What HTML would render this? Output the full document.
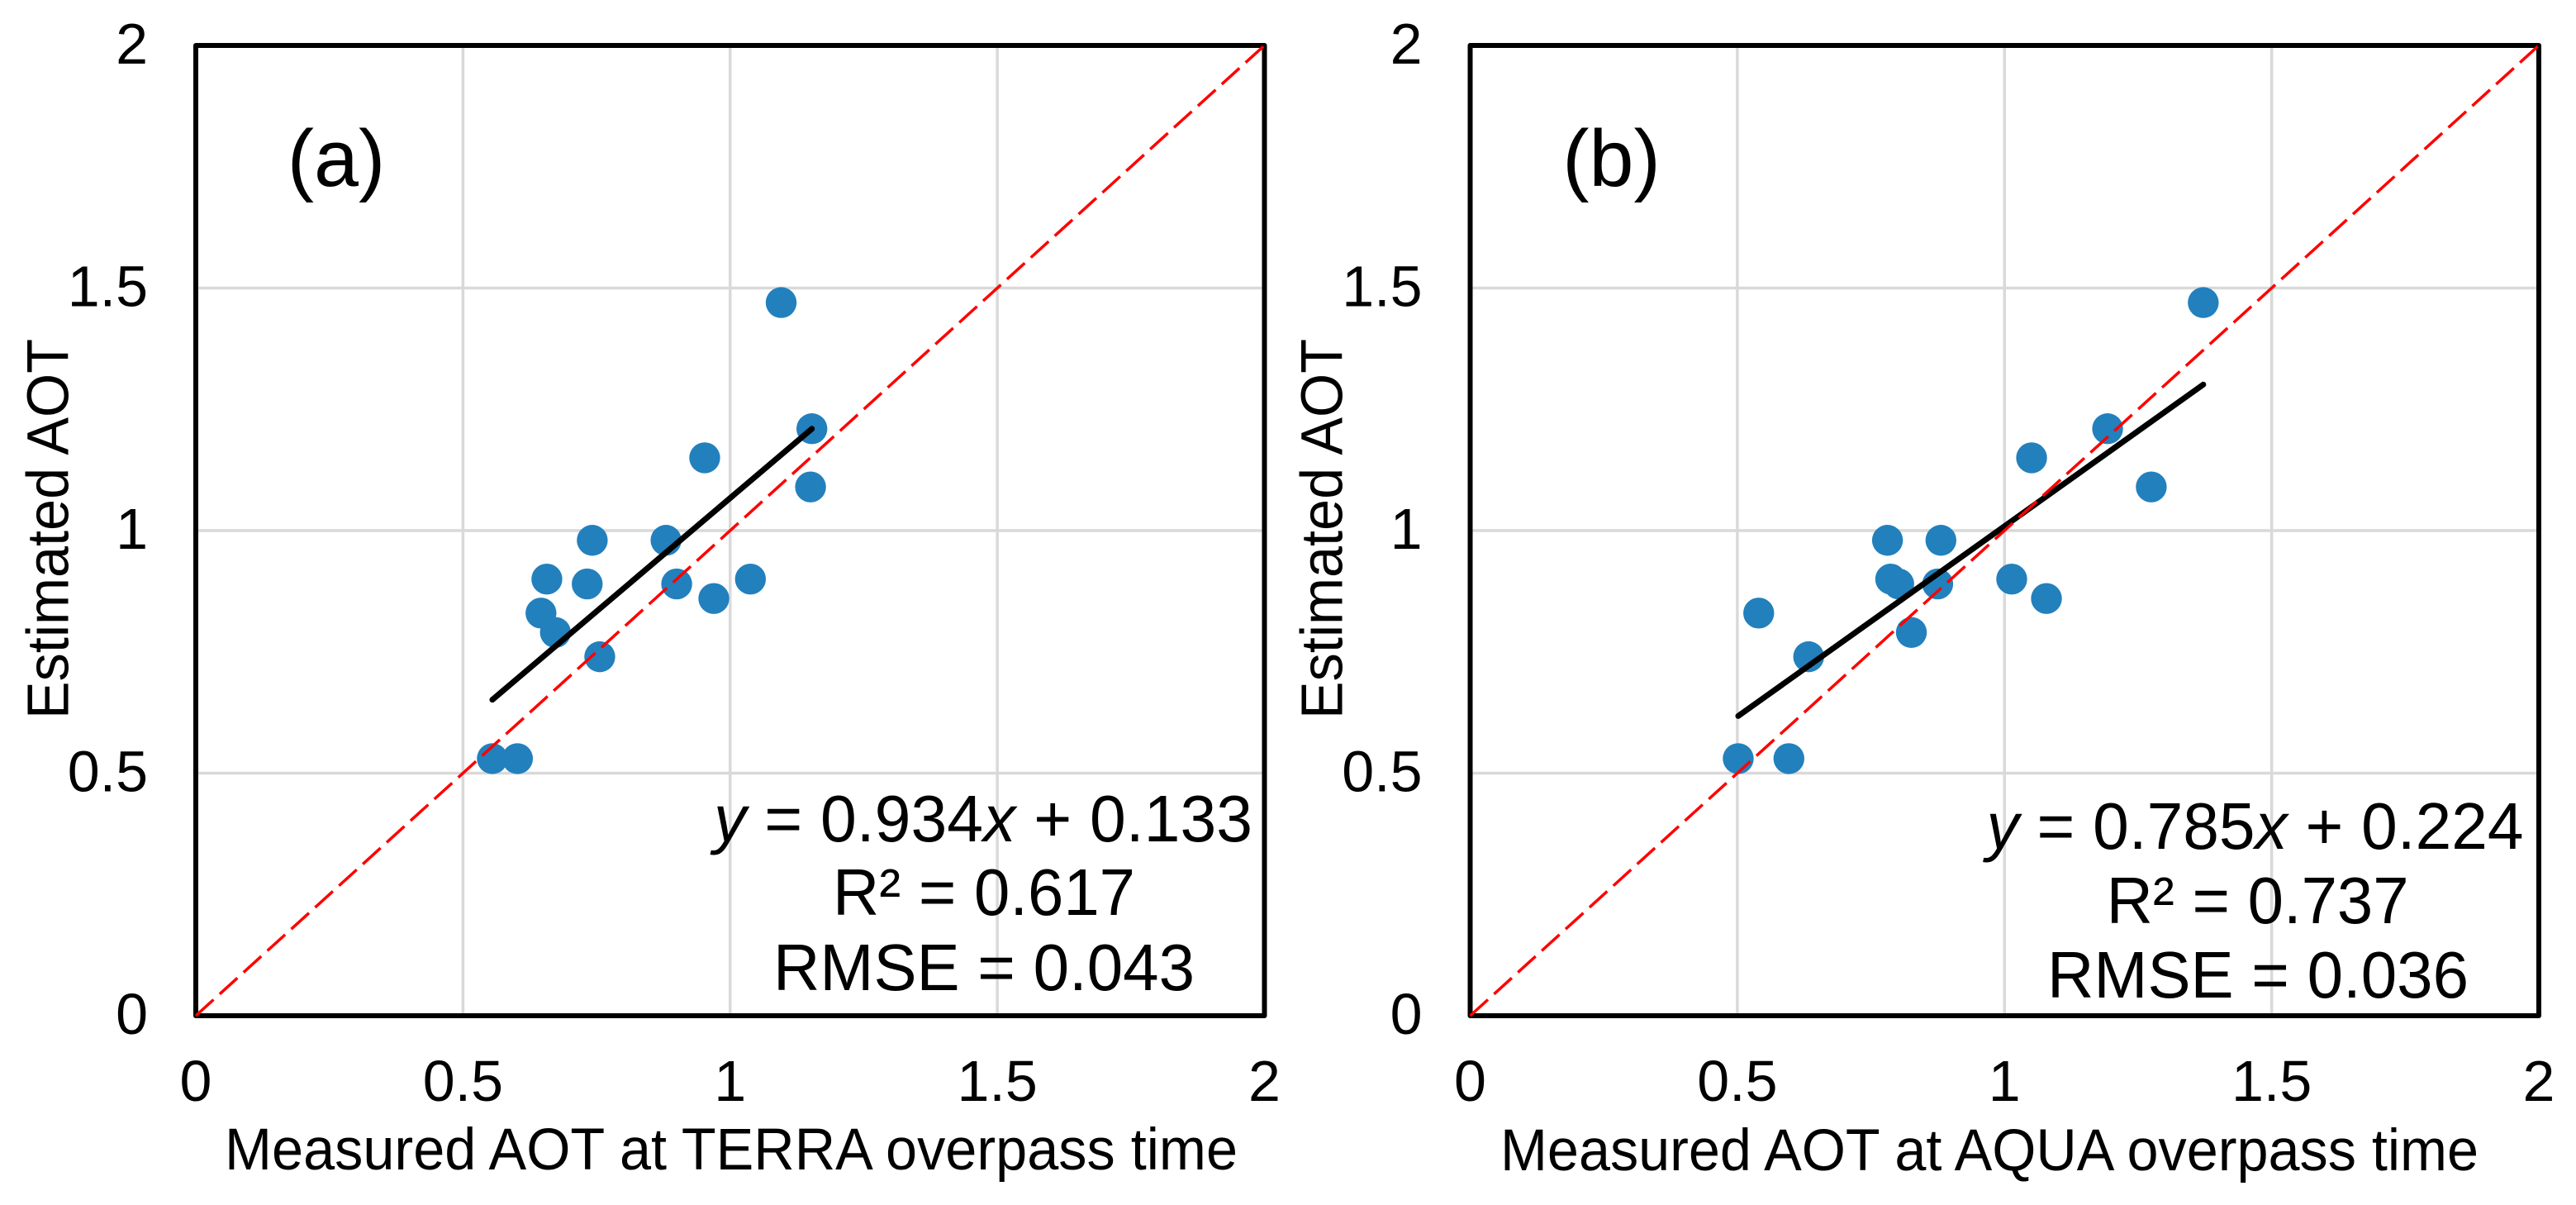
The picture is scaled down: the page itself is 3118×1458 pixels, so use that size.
<!DOCTYPE html>
<html lang="en">
<head>
<meta charset="utf-8">
<title>Estimated vs measured AOT</title>
<style>
html,body{margin:0;padding:0;background:#fff;}
svg{display:block;}
text{font-family:"Liberation Sans",Arial,sans-serif;fill:#000;}
.tick{font-size:70px;}
.title{font-size:71px;}
.tag{font-size:97px;}
.stat{font-size:80px;text-anchor:middle;}
</style>
</head>
<body>
<svg id="chart" xmlns="http://www.w3.org/2000/svg" width="3118" height="1458" viewBox="0 0 3118 1458">
  <rect x="0" y="0" width="3118" height="1458" fill="#ffffff"/>
  <g id="panel-a"></g>
  <g id="panel-b"></g>

  <g>
    <text class="tag" x="407" y="225" text-anchor="middle">(a)</text>
    <text class="title" text-anchor="middle" textLength="460" lengthAdjust="spacingAndGlyphs" transform="translate(82.7,640) rotate(-90)">Estimated AOT</text>
    <text class="title" x="885" y="1415" text-anchor="middle" textLength="1226" lengthAdjust="spacingAndGlyphs">Measured AOT at TERRA overpass time</text>
    <text class="stat" x="1190" y="1018" textLength="652" lengthAdjust="spacingAndGlyphs"><tspan font-style="italic">y</tspan> = 0.934<tspan font-style="italic">x</tspan> + 0.133</text>
    <text class="stat" x="1191" y="1107" textLength="366" lengthAdjust="spacingAndGlyphs">R² = 0.617</text>
    <text class="stat" x="1191" y="1198" textLength="510" lengthAdjust="spacingAndGlyphs">RMSE = 0.043</text>
  </g>

  <g>
    <text class="tag" x="1950.5" y="225" text-anchor="middle">(b)</text>
    <text class="title" text-anchor="middle" textLength="460" lengthAdjust="spacingAndGlyphs" transform="translate(1624.7,640) rotate(-90)">Estimated AOT</text>
    <text class="title" x="2408" y="1416" text-anchor="middle" textLength="1184" lengthAdjust="spacingAndGlyphs">Measured AOT at AQUA overpass time</text>
    <text class="stat" x="2729.5" y="1027" textLength="650" lengthAdjust="spacingAndGlyphs"><tspan font-style="italic">y</tspan> = 0.785<tspan font-style="italic">x</tspan> + 0.224</text>
    <text class="stat" x="2732.6" y="1117" textLength="366" lengthAdjust="spacingAndGlyphs">R² = 0.737</text>
    <text class="stat" x="2733" y="1207" textLength="510" lengthAdjust="spacingAndGlyphs">RMSE = 0.036</text>
  </g>
</svg>
<script>
// Data
const xTickValues = [0, 0.5, 1, 1.5, 2];
const yTickValues = [0, 0.5, 1, 1.5, 2];
const xTickLabels = ['0', '0.5', '1', '1.5', '2'];
const yTickLabels = ['0', '0.5', '1', '1.5', '2'];
const estimatedAOT = [1.47, 1.21, 1.15, 1.09, 0.98, 0.98, 0.90, 0.89, 0.89, 0.90, 0.86, 0.83, 0.79, 0.74, 0.53, 0.53];
const measuredTerra = [1.0955, 1.153, 0.9524, 1.1505, 0.742, 0.880, 0.657, 0.7325, 0.900, 1.038, 0.9695, 0.646, 0.673, 0.756, 0.555, 0.602];
const measuredAqua = [1.372, 1.193, 1.0507, 1.2747, 0.781, 0.881, 0.787, 0.802, 0.875, 1.0135, 1.0785, 0.540, 0.8257, 0.6335, 0.5017, 0.5965];
const terraFit = [0.934, 0.133];
const aquaFit = [0.785, 0.224];
const identityLine = [0, 2];

const SVGNS = 'http://www.w3.org/2000/svg';

function drawPanel(host, left, xValues, yValues, fit) {
  const right = left + 1293.5;
  const top = 55;
  const bottom = 1229;
  const domainMax = 2;
  const sx = v => left + (v / domainMax) * (right - left);
  const sy = v => bottom - (v / domainMax) * (bottom - top);

  function make(tag, attrs) {
    const node = document.createElementNS(SVGNS, tag);
    for (const k in attrs) node.setAttribute(k, attrs[k]);
    host.appendChild(node);
    return node;
  }

  xTickValues.forEach(function (v) {
    if (v === 0 || v === domainMax) return;
    const el = make('line', {x1: sx(v), x2: sx(v), y1: top, y2: bottom, stroke: '#d9d9d9', 'stroke-width': 3.5});
    
    
  });
  yTickValues.forEach(function (v) {
    if (v === 0 || v === domainMax) return;
    const el = make('line', {x1: left, x2: right, y1: sy(v), y2: sy(v), stroke: '#d9d9d9', 'stroke-width': 3.5});
    
    
  });

  const frame = make('rect', {x: left, y: top, width: right - left, height: bottom - top, fill: 'none', stroke: '#000', 'stroke-width': 6, 'stroke-linejoin': 'round'});
  
  

  xTickValues.forEach(function (v, i) {
    const el = make('text', {x: sx(v), y: bottom + 103, 'text-anchor': 'middle', class: 'tick'});
    el.textContent = xTickLabels[i];
    
    
  });
  yTickValues.forEach(function (v, i) {
    const el = make('text', {x: left - 58, y: sy(v) + 22, 'text-anchor': 'end', class: 'tick'});
    el.textContent = yTickLabels[i];
    
    
  });

  xValues.forEach(function (v, i) {
    const el = make('circle', {cx: sx(v), cy: sy(yValues[i]), r: 18.7, fill: '#2280bd'});
    
    
  });

  const xMin = Math.min.apply(null, xValues);
  const xMax = Math.max.apply(null, xValues);
  const trend = make('line', {
    x1: sx(xMin), y1: sy(fit[0] * xMin + fit[1]),
    x2: sx(xMax), y2: sy(fit[0] * xMax + fit[1]),
    stroke: '#000', 'stroke-width': 7, 'stroke-linecap': 'round'
  });
  
  

  const identity = make('line', {
    x1: sx(identityLine[0]), y1: sy(identityLine[0]),
    x2: sx(identityLine[1]), y2: sy(identityLine[1]),
    stroke: '#ff0000', 'stroke-width': 3.5, 'stroke-dasharray': '29 10'
  });
  
  
}

drawPanel(document.getElementById('panel-a'), 237, measuredTerra, estimatedAOT, terraFit);
drawPanel(document.getElementById('panel-b'), 1779.5, measuredAqua, estimatedAOT, aquaFit);
</script>
</body>
</html>
